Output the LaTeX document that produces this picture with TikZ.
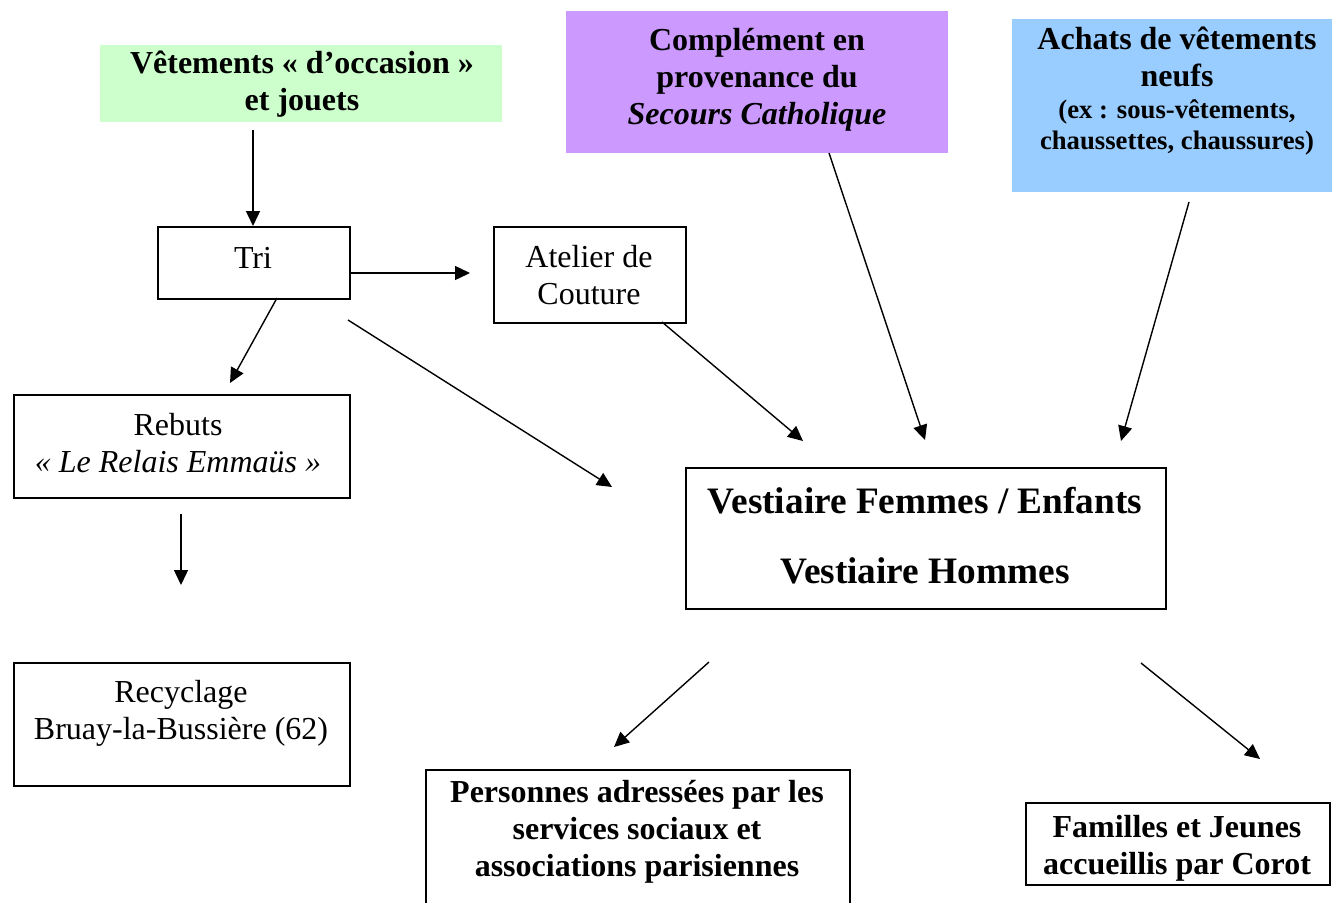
\documentclass[tikz,border=0pt]{standalone}
\usepackage{fontspec}
\setmainfont{Liberation Serif}
\usetikzlibrary{arrows.meta}
\definecolor{greenc}{HTML}{CCFFCC}
\definecolor{purplec}{HTML}{CC99FF}
\definecolor{bluec}{HTML}{99CCFF}
\begin{document}
\begin{tikzpicture}[x=1pt,y=-1pt,
  box/.style={draw, line width=1.6pt, inner sep=0pt, anchor=north west},
  fillbox/.style={inner sep=0pt, anchor=north west},
  txt/.style={inner sep=0pt, align=center, font=\fontsize{32}{37}\selectfont},
  btxt/.style={inner sep=0pt, align=center, font=\fontsize{32}{37}\selectfont\bfseries},
  arr/.style={line width=1.4pt, -{Triangle[length=15pt,width=14pt]}}]
\useasboundingbox (0,0) rectangle (1332,902);
% source boxes
\node[fillbox, fill=greenc, minimum width=402pt, minimum height=77pt] (green) at (100,45) {};
\node[btxt] (greent) at (302,84) {Vêtements « d’occasion »\\et jouets};
\node[fillbox, fill=purplec, minimum width=382pt, minimum height=142pt] (purple) at (566,11) {};
\node[btxt] (purplet) at (757,80) {Complément en\\provenance du\\\textit{Secours Catholique}};
\node[fillbox, fill=bluec, minimum width=320pt, minimum height=173pt] (blue) at (1012,19) {};
\node[btxt] (bluet1) at (1177,57) {Achats de vêtements\\neufs};
\node[inner sep=0pt, align=center, font=\fontsize{26.7}{31}\selectfont\bfseries] (bluet2) at (1177,127) {(ex : sous-vêtements,\\chaussettes, chaussures)};
% process boxes
\node[box, minimum width=192pt, minimum height=72pt] (tri) at (157,226) {};
\node[txt] (trit) at (253,258) {Tri};
\node[box, minimum width=192pt, minimum height=96pt] (atelier) at (493,226) {};
\node[txt] (ateliert) at (589,275) {Atelier de\\Couture};
\node[box, minimum width=336pt, minimum height=103pt] (rebuts) at (13,394) {};
\node[txt] (rebutst) at (178,443) {Rebuts\\\textit{« Le Relais Emmaüs »}};
\node[box, minimum width=336pt, minimum height=123pt] (recyc) at (13,662) {};
\node[txt] (recyct) at (181,713) {Recyclage\\Bruay-la-Bussière (62)};
\node[box, minimum width=480pt, minimum height=141pt] (vest) at (685,467) {};
\node[inner sep=0pt, align=center, font=\fontsize{37.3}{70}\selectfont\bfseries] (vestt) at (925,536) {Vestiaire Femmes / Enfants\\Vestiaire Hommes};
\node[box, minimum width=424pt, minimum height=145pt] (pers) at (425,769) {};
\node[btxt] (perst) at (637,832) {Personnes adressées par les\\services sociaux et\\associations parisiennes};
\node[box, minimum width=304pt, minimum height=82pt] (fam) at (1025,802) {};
\node[btxt] (famt) at (1177,848) {Familles et Jeunes\\accueillis par Corot};
% connector ends
\coordinate (g1) at (253,130); \coordinate (g2) at (253,226);
\coordinate (t1) at (349,273); \coordinate (t2) at (470,273);
\coordinate (t3) at (277,298); \coordinate (t4) at (230,383);
\coordinate (t5) at (348,320); \coordinate (t6) at (612,487);
\coordinate (a1) at (662,322); \coordinate (a2) at (803,441);
\coordinate (p1) at (829,153); \coordinate (p2) at (925,440);
\coordinate (b1) at (1189,202); \coordinate (b2) at (1121,441);
\coordinate (r1) at (181,514); \coordinate (r2) at (181,585);
\coordinate (v1) at (709,662); \coordinate (v2) at (614,747);
\coordinate (v3) at (1141,663); \coordinate (v4) at (1260,759);
\draw[arr] (g1) -- (g2);
\draw[arr] (t1) -- (t2);
\draw[arr] (t3) -- (t4);
\draw[arr] (t5) -- (t6);
\draw[arr] (a1) -- (a2);
\draw[arr] (p1) -- (p2);
\draw[arr] (b1) -- (b2);
\draw[arr] (r1) -- (r2);
\draw[arr] (v1) -- (v2);
\draw[arr] (v3) -- (v4);
\end{tikzpicture}
\end{document}
